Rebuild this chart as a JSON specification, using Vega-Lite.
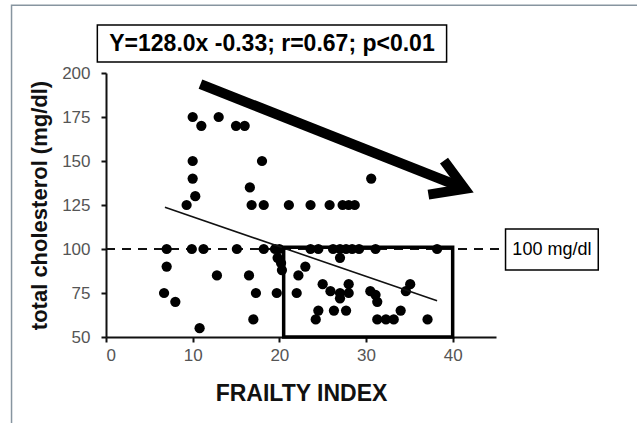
{
  "$schema": "https://vega.github.io/schema/vega-lite/v6.json",
  "autosize": "none",
  "width": 390,
  "height": 264,
  "padding": {"left": 106, "top": 73, "right": 141, "bottom": 86},
  "background": "white",
  "config": {
    "view": {"stroke": null},
    "font": "Liberation Sans",
    "axis": {"grid": false, "domainColor": "#111", "domainWidth": 2, "tickColor": "#111", "tickWidth": 2, "tickSize": 5, "labelFont": "Liberation Sans", "labelFontSize": 17, "labelColor": "#555", "titleFont": "Liberation Sans", "titleFontWeight": "bold", "titleColor": "#111"}
  },
  "datasets": {
    "points": [
      {"fi": 10, "chol": 175}, {"fi": 11, "chol": 170}, {"fi": 13, "chol": 175}, {"fi": 15, "chol": 170}, {"fi": 16, "chol": 170},
      {"fi": 10, "chol": 150}, {"fi": 18, "chol": 150},
      {"fi": 10, "chol": 140}, {"fi": 30.6, "chol": 140},
      {"fi": 16.6, "chol": 135}, {"fi": 10.3, "chol": 130},
      {"fi": 9.3, "chol": 125}, {"fi": 16.8, "chol": 125}, {"fi": 18.2, "chol": 125}, {"fi": 21.1, "chol": 125}, {"fi": 23.6, "chol": 125}, {"fi": 25.8, "chol": 125}, {"fi": 27.3, "chol": 125}, {"fi": 28, "chol": 125}, {"fi": 28.7, "chol": 125},
      {"fi": 7, "chol": 100}, {"fi": 9.9, "chol": 100}, {"fi": 11.25, "chol": 100}, {"fi": 15.1, "chol": 100}, {"fi": 18.2, "chol": 100}, {"fi": 19.5, "chol": 100}, {"fi": 20, "chol": 100}, {"fi": 23.6, "chol": 100}, {"fi": 24.5, "chol": 100}, {"fi": 26.2, "chol": 100}, {"fi": 27, "chol": 100}, {"fi": 27.7, "chol": 100}, {"fi": 28.4, "chol": 100}, {"fi": 29.2, "chol": 100}, {"fi": 31.1, "chol": 100}, {"fi": 38.2, "chol": 100},
      {"fi": 19.8, "chol": 95}, {"fi": 20.2, "chol": 92}, {"fi": 20.3, "chol": 88}, {"fi": 27, "chol": 95},
      {"fi": 7, "chol": 90}, {"fi": 23, "chol": 90},
      {"fi": 12.8, "chol": 85}, {"fi": 16.5, "chol": 85}, {"fi": 22.2, "chol": 85},
      {"fi": 25, "chol": 80}, {"fi": 28, "chol": 80}, {"fi": 35.1, "chol": 80},
      {"fi": 6.7, "chol": 75}, {"fi": 17.3, "chol": 75}, {"fi": 19.7, "chol": 75}, {"fi": 22, "chol": 75}, {"fi": 25.9, "chol": 76}, {"fi": 27, "chol": 75}, {"fi": 28, "chol": 75}, {"fi": 30.5, "chol": 76}, {"fi": 31.1, "chol": 74}, {"fi": 34.6, "chol": 76},
      {"fi": 27, "chol": 72}, {"fi": 8, "chol": 70}, {"fi": 31.3, "chol": 70},
      {"fi": 24.5, "chol": 65}, {"fi": 26.3, "chol": 65}, {"fi": 27.7, "chol": 65}, {"fi": 34, "chol": 65},
      {"fi": 17, "chol": 60}, {"fi": 24.2, "chol": 60}, {"fi": 31.3, "chol": 60}, {"fi": 32.3, "chol": 60}, {"fi": 33.2, "chol": 60}, {"fi": 37.1, "chol": 60},
      {"fi": 10.8, "chol": 55}
    ],
    "fit": [{"fi": 6.8, "chol": 123.7}, {"fi": 38.2, "chol": 70.6}],
    "arrow": [
      {"part": "shaft", "ord": 1, "fi": 10.9, "chol": 193.7},
      {"part": "shaft", "ord": 2, "fi": 40.8, "chol": 135.5},
      {"part": "head", "ord": 1, "fi": 39.0, "chol": 150.2},
      {"part": "head", "ord": 2, "fi": 41.4, "chol": 134.2},
      {"part": "head", "ord": 3, "fi": 37.2, "chol": 130.9}
    ]
  },
  "layer": [
    {
      "data": {"values": [{"x1": -10.9, "x2": 80, "y1": 238.5, "y2": -30}]},
      "mark": {"type": "rect", "fill": null, "stroke": "#8795a0", "strokeWidth": 1.5, "clip": false},
      "encoding": {
        "x": {"field": "x1", "type": "quantitative"},
        "x2": {"field": "x2"},
        "y": {"field": "y1", "type": "quantitative"},
        "y2": {"field": "y2"}
      }
    },
    {
      "data": {"values": [{"a": 0, "b": 45.5, "v": 100}]},
      "mark": {"type": "rule", "strokeDash": [9, 7], "strokeWidth": 2, "color": "#111"},
      "encoding": {
        "x": {"field": "a", "type": "quantitative"},
        "x2": {"field": "b"},
        "y": {"field": "v", "type": "quantitative"}
      }
    },
    {
      "data": {"name": "points"},
      "mark": {"type": "point", "shape": "circle", "filled": true, "color": "#000", "opacity": 1, "size": 105},
      "encoding": {
        "x": {"field": "fi", "type": "quantitative", "scale": {"domain": [0, 45], "nice": false, "zero": false},
              "axis": {"title": "FRAILTY INDEX", "titleFontSize": 23, "values": [0, 10, 20, 30, 40], "labelPadding": 5, "titlePadding": 19}},
        "y": {"field": "chol", "type": "quantitative", "scale": {"domain": [50, 200], "nice": false, "zero": false},
              "axis": {"title": "total cholesterol (mg/dl)", "titleFontSize": 22, "values": [50, 75, 100, 125, 150, 175, 200], "labelPadding": 11, "titlePadding": 10}}
      }
    },
    {
      "data": {"name": "fit"},
      "mark": {"type": "line", "color": "#111", "strokeWidth": 1.6},
      "encoding": {
        "x": {"field": "fi", "type": "quantitative"},
        "y": {"field": "chol", "type": "quantitative"}
      }
    },
    {
      "data": {"values": [{"a": 20.5, "b": 40, "lo": 50, "hi": 101}]},
      "mark": {"type": "rect", "fill": null, "stroke": "#000", "strokeWidth": 3.5},
      "encoding": {
        "x": {"field": "a", "type": "quantitative"},
        "x2": {"field": "b"},
        "y": {"field": "lo", "type": "quantitative"},
        "y2": {"field": "hi"}
      }
    },
    {
      "data": {"name": "arrow"},
      "mark": {"type": "line", "color": "#000", "strokeWidth": 10, "strokeJoin": "miter", "strokeCap": "butt", "clip": false},
      "encoding": {
        "x": {"field": "fi", "type": "quantitative"},
        "y": {"field": "chol", "type": "quantitative"},
        "detail": {"field": "part"},
        "order": {"field": "ord"}
      }
    },
    {
      "data": {"values": [{"a": -1.0, "b": 39.3, "lo": 206.3, "hi": 227.3}, {"a": 46.1, "b": 56.8, "lo": 88.1, "hi": 111.4}]},
      "mark": {"type": "rect", "fill": "white", "stroke": "#000", "strokeWidth": 1.5, "clip": false},
      "encoding": {
        "x": {"field": "a", "type": "quantitative"},
        "x2": {"field": "b"},
        "y": {"field": "lo", "type": "quantitative"},
        "y2": {"field": "hi"}
      }
    },
    {
      "data": {"values": [{"t": "Y=128.0x -0.33; r=0.67; p<0.01", "fi": 19.15, "chol": 216.6}]},
      "mark": {"type": "text", "font": "Liberation Sans", "fontSize": 23, "fontWeight": "bold", "color": "#000", "align": "center", "baseline": "middle", "clip": false},
      "encoding": {
        "x": {"field": "fi", "type": "quantitative"},
        "y": {"field": "chol", "type": "quantitative"},
        "text": {"field": "t"}
      }
    },
    {
      "data": {"values": [{"t": "100 mg/dl", "fi": 51.45, "chol": 99.6}]},
      "mark": {"type": "text", "font": "Liberation Sans", "fontSize": 18, "color": "#000", "align": "center", "baseline": "middle", "clip": false},
      "encoding": {
        "x": {"field": "fi", "type": "quantitative"},
        "y": {"field": "chol", "type": "quantitative"},
        "text": {"field": "t"}
      }
    }
  ]
}
